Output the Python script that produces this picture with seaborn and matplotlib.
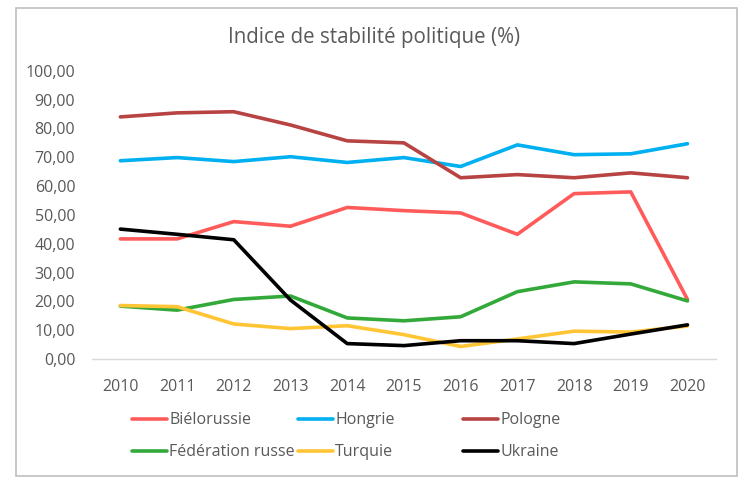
"""Indice de stabilité politique, 2010-2020."""
import matplotlib
matplotlib.use("Agg")
import matplotlib.pyplot as plt
import matplotlib.patches as mpatches
from matplotlib.ticker import FuncFormatter
import pandas as pd
import seaborn as sns

years = list(range(2010, 2021))
bielorussie = [41.7, 41.7, 47.7, 46.1, 52.6, 51.5, 50.7, 43.3, 57.4, 58.0, 20.7]
hongrie = [68.8, 69.9, 68.5, 70.2, 68.2, 69.9, 66.8, 74.3, 70.9, 71.2, 74.7]
pologne = [84.0, 85.4, 85.8, 81.2, 75.7, 75.0, 62.9, 64.0, 62.9, 64.6, 62.9]
federation_russe = [18.4, 17.0, 20.7, 21.9, 14.3, 13.3, 14.7, 23.4, 26.8, 26.1, 20.2]
turquie = [18.6, 18.2, 12.2, 10.6, 11.6, 8.5, 4.4, 7.0, 9.7, 9.4, 11.5]
ukraine = [45.1, 43.3, 41.4, 20.5, 5.4, 4.7, 6.4, 6.4, 5.4, 8.7, 11.9]

series = {
    "Biélorussie": bielorussie,
    "Hongrie": hongrie,
    "Pologne": pologne,
    "Fédération russe": federation_russe,
    "Turquie": turquie,
    "Ukraine": ukraine,
}
colors = ["#FF5B5B", "#00B0F0", "#B84343", "#33A93A", "#FFC535", "#000000"]

df = pd.DataFrame(
    [(y, name, v) for name, vals in series.items() for y, v in zip(years, vals)],
    columns=["annee", "pays", "valeur"],
)

sns.set_style("white")
plt.rcParams["font.family"] = ["Open Sans", "DejaVu Sans"]
grey = "#595959"

fig = plt.figure(figsize=(7.48, 4.88), dpi=100)
ax = fig.add_axes([0.123, 0.264, 0.834, 0.591])
sns.lineplot(data=df, x="annee", y="valeur", hue="pays", palette=colors,
             linewidth=2.6, ax=ax, legend=False)

ax.set_xlim(2009.5, 2020.5)
ax.set_ylim(0, 100)
ax.set_xticks(years)
ax.set_yticks(range(0, 101, 10))
ax.yaxis.set_major_formatter(FuncFormatter(lambda v, _: f"{v:.2f}".replace(".", ",")))
ax.tick_params(length=0, labelsize=11.5, labelcolor=grey)
ax.tick_params(axis="x", pad=14)
ax.tick_params(axis="y", pad=12)
ax.set_xlabel("")
ax.set_ylabel("")
for side in ["left", "right", "top"]:
    ax.spines[side].set_visible(False)
ax.spines["bottom"].set_color("#D9D9D9")
ax.spines["bottom"].set_linewidth(1)

fig.suptitle("Indice de stabilité politique (%)", y=0.945, fontsize=14.8, color=grey)

# legend: three columns of equal width, like Excel
names = list(series.keys())
handles = ax.get_lines()
for col, x0 in enumerate([0.176, 0.398, 0.619]):
    idx = [col, col + 3]
    fig.legend([handles[i] for i in idx], [names[i] for i in idx],
               loc="upper left", bbox_to_anchor=(x0, 0.155), frameon=False,
               fontsize=11.5, labelcolor=grey, handlelength=2.2,
               handletextpad=0.15, labelspacing=1.0, borderpad=0, borderaxespad=0)

fig.patches.append(mpatches.Rectangle((16 / 748, 1 - 476 / 488), 721 / 748, 468 / 488,
                                      transform=fig.transFigure, fill=False,
                                      edgecolor="#BFBFBF", linewidth=1.2))

fig.savefig("out.png", dpi=100)
